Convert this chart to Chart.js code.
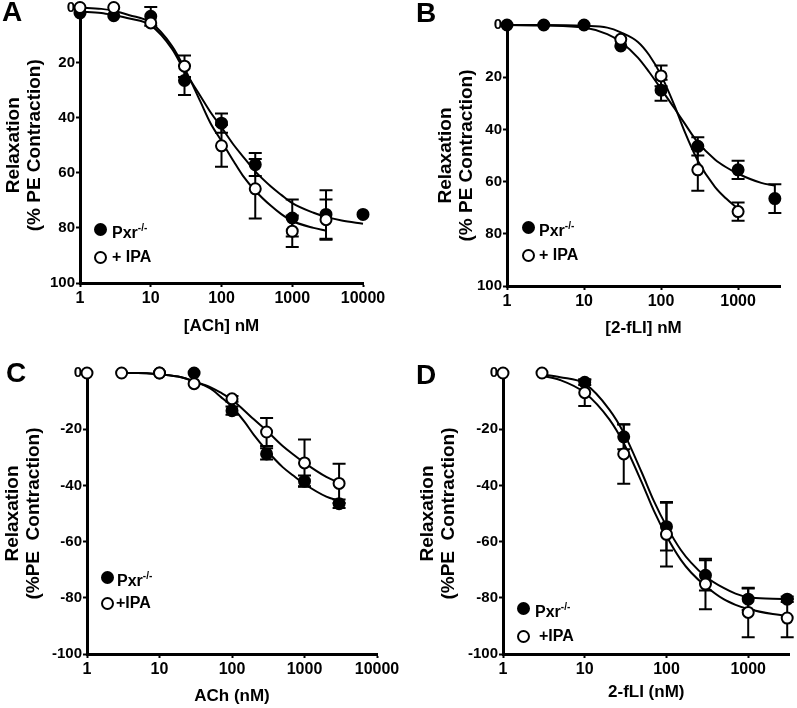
<!DOCTYPE html>
<html>
<head>
<meta charset="utf-8">
<script src="https://cdn.jsdelivr.net/npm/chart.js@4.4.1/dist/chart.umd.min.js"></script>
<style>
  body { margin: 0; background: #fff; }
  #fig { position: relative; width: 797px; height: 708px; overflow: hidden; font-family: 'Liberation Sans', Arial, sans-serif; }
  canvas { position: absolute; }
  .letter { position: absolute; font-weight: bold; font-size: 28px; line-height: 28px; }
  .dot { position: absolute; width: 13px; height: 13px; box-sizing: border-box; border: 2px solid #000; border-radius: 50%; }
  .txt { position: absolute; font-weight: bold; font-size: 16px; line-height: 16px; white-space: nowrap; }
  .txt sup { font-size: 10px; position: relative; top: -1px; }
</style>
</head>
<body>
<div id="fig">
  <canvas id="chartA" width="400" height="340" style="left:0;top:0"></canvas>
  <canvas id="chartB" width="397" height="340" style="left:400px;top:0"></canvas>
  <canvas id="chartC" width="400" height="368" style="left:0;top:340px"></canvas>
  <canvas id="chartD" width="397" height="368" style="left:400px;top:340px"></canvas>
  <div class="letter" style="left:2px;top:-2px">A</div>
  <div class="letter" style="left:416px;top:-1px">B</div>
  <div class="letter" style="left:6px;top:359px">C</div>
  <div class="letter" style="left:416px;top:361px">D</div>
</div>
<script>
// tick labels
const xTicksLong = [1, 10, 100, 1000, 10000];
const xTicksShort = [1, 10, 100, 1000];
const yTicksPos = [0, 20, 40, 60, 80, 100];
const yTicksNeg = [0, -20, -40, -60, -80, -100];

// panel A: [ACh] nM
const pxrDoseA = [1, 3, 10, 30, 100, 300, 1000, 3000, 10000];
const pxrA = [2, 3, 3.2, 26.5, 42, 57, 76.4, 75.1, 75.1];
const pxrSemA = [0, 0, 3.4, 5.3, 3.5, 4.2, 6.7, 8.8, 0];
const ipaDoseA = [1, 3, 10, 30, 100, 300, 1000, 3000];
const ipaA = [0, 0, 5.6, 21.3, 50.2, 65.8, 81.2, 77];
const ipaSemA = [0, 0, 0, 3.9, 7.6, 10.8, 5.7, 7.3];
const fitDoseA = [1, 2, 3, 5, 10, 20, 30, 50, 70, 100, 150, 200, 300, 500, 700, 1000, 2000, 3000, 5000, 10000];
const pxrFitA = [1.5, 2, 2.8, 4, 6.5, 15, 23, 32, 38, 43.5, 50, 54, 59.5, 65, 68, 71, 74.5, 76, 77.3, 78.5];
const ipaFitA = [0, 0.5, 1.2, 2.8, 5.5, 14, 22, 34, 42, 48.5, 56, 61, 66.5, 72, 75, 77.5, 80, 81];

// panel B: [2-fLI] nM
const pxrDoseB = [1, 3, 10, 30, 100, 300, 1000, 3000];
const pxrB = [0, 0, 0, 8, 25, 46.5, 55.5, 66.5];
const pxrSemB = [0, 0, 0, 0, 4, 3.5, 3.5, 5.5];
const ipaDoseB = [30, 100, 300, 1000];
const ipaB = [5.5, 19.5, 55.5, 71.5];
const ipaSemB = [0, 4, 8, 3.5];
const fitDoseB = [1, 3, 10, 20, 30, 50, 70, 100, 150, 200, 300, 500, 700, 1000, 2000, 3000];
const pxrFitB = [0, 0.2, 1, 3.5, 6.5, 12.5, 18, 24.5, 32, 37.5, 45, 51.5, 54.5, 57, 60.5, 61.5];
const ipaFitB = [0, 0, 0.3, 1, 2.8, 6.5, 11.5, 19.2, 31, 40.5, 52, 62, 66.5, 70.5];

// panel C: ACh (nM)
const pxrDoseC = [10, 30, 100, 300, 1000, 3000];
const pxrC = [0, 0, -13.4, -28.8, -38.5, -46.5];
const pxrSemC = [0, 0, 1.5, 2, 2, 1.5];
const ipaDoseC = [1, 3, 10, 30, 100, 300, 1000, 3000];
const ipaC = [0, 0, 0, -3.8, -9.2, -21, -32, -39.3];
const ipaSemC = [0, 0, 0, 0, 1, 5, 8.3, 7];
const fitDoseC = [3, 5, 10, 20, 30, 50, 70, 100, 150, 200, 300, 500, 700, 1000, 2000, 3000];
const pxrFitC = [0, 0, -0.5, -1.5, -3, -5.5, -8.5, -12, -17.5, -22, -27.5, -33.5, -36.5, -39.5, -44, -45.5];
const ipaFitC = [0, 0, -0.5, -1.5, -3, -5, -7, -9.5, -13.5, -16.5, -20.5, -26, -29, -32, -37, -39];

// panel D: 2-fLI (nM)
const pxrDoseD = [10, 30, 100, 300, 1000, 3000];
const pxrD = [-3.3, -22.7, -54.7, -72, -80.5, -80.5];
const pxrSemD = [1, 4.4, 8.5, 5.4, 3.8, 1];
const ipaDoseD = [1, 3, 10, 30, 100, 300, 1000, 3000];
const ipaD = [0, 0, -7, -28.8, -57.4, -75.1, -85.2, -87.2];
const ipaSemD = [0, 0, 4.7, 10.6, 11.5, 9, 8.8, 6.8];
const fitDoseD = [3, 5, 10, 20, 30, 50, 70, 100, 150, 200, 300, 500, 700, 1000, 2000, 3000];
const pxrFitD = [-0.5, -1.5, -3.8, -13, -21.3, -35.5, -45.5, -54.5, -63, -67.5, -72.4, -76.5, -78.5, -79.8, -80.3, -80.5];
const ipaFitD = [-1, -2.5, -7, -16.5, -25, -39, -49, -58, -66.5, -71, -75.8, -80.5, -82.5, -84, -85.8, -86.4];

const FONT = "'Liberation Sans', Arial, sans-serif";

const toXY = (xs, ys) => xs.map((v, i) => ({ x: v, y: ys[i] }));

// error bars drawn under the markers, using the chart scales
const errorBars = {
  id: 'errorBars',
  beforeDatasetsDraw(chart) {
    const { ctx, scales: { x, y } } = chart;
    ctx.save();
    ctx.strokeStyle = '#000';
    ctx.lineWidth = 2;
    chart.data.datasets.forEach(ds => {
      if (!ds.errors) return;
      ds.data.forEach((p, i) => {
        const e = ds.errors[i];
        if (!e) return;
        const px = x.getPixelForValue(p.x);
        const y1 = y.getPixelForValue(p.y - e);
        const y2 = y.getPixelForValue(p.y + e);
        ctx.beginPath();
        ctx.moveTo(px, y1); ctx.lineTo(px, y2);
        ctx.moveTo(px - 6.5, y1); ctx.lineTo(px + 6.5, y1);
        ctx.moveTo(px - 6.5, y2); ctx.lineTo(px + 6.5, y2);
        ctx.stroke();
      });
    });
    ctx.restore();
  }
};

function marker(fill) {
  return {
    showLine: false, pointRadius: 5.5, pointBorderWidth: 2,
    pointBackgroundColor: fill, pointBorderColor: '#000', clip: false
  };
}
function curve() {
  return {
    showLine: true, borderColor: '#000', borderWidth: 2, pointRadius: 0,
    cubicInterpolationMode: 'monotone', fill: false, clip: false
  };
}

function makePanel(id, p) {
  const ctx = document.getElementById(id).getContext('2d');
  return new Chart(ctx, {
    type: 'scatter',
    data: {
      datasets: [
        Object.assign({ label: '+IPA', data: toXY(p.ipaDose, p.ipa), errors: p.ipaSem }, marker('#fff')),
        Object.assign({ label: 'Pxr', data: toXY(p.pxrDose, p.pxr), errors: p.pxrSem }, marker('#000')),
        Object.assign({ label: 'IPA fit', data: toXY(p.fitDose, p.ipaFit) }, curve()),
        Object.assign({ label: 'Pxr fit', data: toXY(p.fitDose, p.pxrFit) }, curve())
      ]
    },
    options: {
      responsive: false,
      animation: false,
      devicePixelRatio: 1,
      layout: { padding: { left: 0, top: p.top, right: p.right, bottom: 0 } },
      plugins: { legend: { display: false }, tooltip: { enabled: false } },
      scales: {
        x: {
          type: 'logarithmic',
          min: 1,
          max: p.xMax,
          afterBuildTicks(s) { s.ticks = p.xTicks.map(v => ({ value: v })); },
          afterFit(s) { s.height = p.hx; s.paddingLeft = 0; s.paddingRight = 0; },
          ticks: {
            color: '#000', padding: 2, maxRotation: 0, autoSkip: false,
            font: { family: FONT, size: 16, weight: 'bold' },
            callback: v => String(v)
          },
          grid: { drawOnChartArea: false, drawTicks: true, tickLength: 4, tickWidth: 2, tickColor: '#000' },
          border: { display: true, color: '#000', width: 3 },
          title: {
            display: true, text: p.xTitle, color: '#000',
            font: { family: FONT, size: 17, weight: 'bold', lineHeight: 1.2 },
            padding: { top: 0, bottom: p.xTitlePad }
          }
        },
        y: {
          type: 'linear',
          min: p.yMin,
          max: p.yMax,
          reverse: p.reverse,
          afterBuildTicks(s) { s.ticks = p.yTicks.map(v => ({ value: v })); },
          afterFit(s) { s.width = p.wy; s.paddingTop = 0; s.paddingBottom = 0; },
          ticks: {
            color: '#000', padding: 1,
            font: { family: FONT, size: 15, weight: 'bold' },
            callback: v => String(v)
          },
          grid: { drawOnChartArea: false, drawTicks: true, tickLength: 4, tickWidth: 2, tickColor: '#000' },
          border: { display: true, color: '#000', width: 3 },
          title: {
            display: true, text: p.yTitle, color: '#000',
            font: { family: FONT, size: 19, weight: 'bold', lineHeight: 1.1 },
            padding: { top: p.yTitlePad, bottom: 0 }
          }
        }
      }
    },
    plugins: [errorBars]
  });
}

makePanel('chartA', {
  pxrDose: pxrDoseA, pxr: pxrA, pxrSem: pxrSemA,
  ipaDose: ipaDoseA, ipa: ipaA, ipaSem: ipaSemA,
  fitDose: fitDoseA, pxrFit: pxrFitA, ipaFit: ipaFitA,
  xMax: 10000, xTicks: xTicksLong, yMin: 0, yMax: 100, yTicks: yTicksPos, reverse: true,
  xTitle: '[ACh] nM', yTitle: ['Relaxation', '(% PE Contraction)'],
  top: 7, right: 37, wy: 80, hx: 57, yTitlePad: 3, xTitlePad: 3
});
makePanel('chartB', {
  pxrDose: pxrDoseB, pxr: pxrB, pxrSem: pxrSemB,
  ipaDose: ipaDoseB, ipa: ipaB, ipaSem: ipaSemB,
  fitDose: fitDoseB, pxrFit: pxrFitB, ipaFit: ipaFitB,
  xMax: 3500, xTicks: xTicksShort, yMin: 0, yMax: 100, yTicks: yTicksPos, reverse: true,
  xTitle: '[2-fLI] nM', yTitle: ['Relaxation', '(% PE Contraction)'],
  top: 25, right: 17, wy: 107, hx: 54, yTitlePad: 35, xTitlePad: 1
});
makePanel('chartC', {
  pxrDose: pxrDoseC, pxr: pxrC, pxrSem: pxrSemC,
  ipaDose: ipaDoseC, ipa: ipaC, ipaSem: ipaSemC,
  fitDose: fitDoseC, pxrFit: pxrFitC, ipaFit: ipaFitC,
  xMax: 10000, xTicks: xTicksLong, yMin: -100, yMax: 0, yTicks: yTicksNeg, reverse: false,
  xTitle: 'ACh (nM)', yTitle: ['Relaxation', '(%PE  Contraction)'],
  top: 33, right: 23, wy: 87, hx: 54, yTitlePad: 2, xTitlePad: 1
});
makePanel('chartD', {
  pxrDose: pxrDoseD, pxr: pxrD, pxrSem: pxrSemD,
  ipaDose: ipaDoseD, ipa: ipaD, ipaSem: ipaSemD,
  fitDose: fitDoseD, pxrFit: pxrFitD, ipaFit: ipaFitD,
  xMax: 3200, xTicks: xTicksShort, yMin: -100, yMax: 0, yTicks: yTicksNeg, reverse: false,
  xTitle: '2-fLI (nM)', yTitle: ['Relaxation', '(%PE  Contraction)'],
  top: 33, right: 5, wy: 103, hx: 54, yTitlePad: 17, xTitlePad: 5
});

// legends (HTML so the superscript can be real text)
const fig = document.getElementById('fig');
function legendRow(cx, cy, tx, fill, html) {
  const d = document.createElement('div');
  d.className = 'dot';
  d.style.left = (cx - 6.5) + 'px';
  d.style.top = (cy - 6.5) + 'px';
  d.style.background = fill;
  fig.appendChild(d);
  const t = document.createElement('div');
  t.className = 'txt';
  t.style.left = tx + 'px';
  t.style.top = (cy - 8) + 'px';
  t.innerHTML = html;
  fig.appendChild(t);
}
legendRow(100, 229, 112, '#000', 'Pxr<sup>-/-</sup>');
legendRow(100, 257, 112, '#fff', '+ IPA');
legendRow(528, 227, 539, '#000', 'Pxr<sup>-/-</sup>');
legendRow(528, 255, 539, '#fff', '+ IPA');
legendRow(107, 577, 117, '#000', 'Pxr<sup>-/-</sup>');
legendRow(107, 603, 116, '#fff', '+IPA');
legendRow(523, 608, 535, '#000', 'Pxr<sup>-/-</sup>');
legendRow(523, 636, 539, '#fff', '+IPA');
</script>
</body>
</html>
